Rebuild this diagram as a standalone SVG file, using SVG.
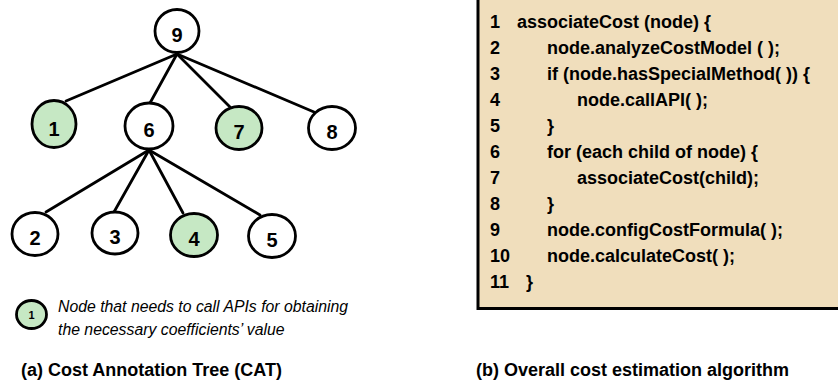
<svg xmlns="http://www.w3.org/2000/svg" width="838" height="384" viewBox="0 0 838 384">
<style>
.nd{fill:#fff;stroke:#000;stroke-width:2.8}
.gr{fill:#c6e8c4}
.num{font-family:"Liberation Sans",Arial,sans-serif;font-weight:bold;font-size:20px;text-anchor:middle;fill:#000}
.ed{stroke:#000;stroke-width:2.8;fill:none;stroke-linecap:round}
.code{font-family:"Liberation Sans",Arial,sans-serif;font-weight:bold;font-size:18px;fill:#000}
.leg{font-family:"Liberation Sans",Arial,sans-serif;font-style:italic;font-size:15.8px;fill:#000}
.cap{font-family:"Liberation Sans",Arial,sans-serif;font-weight:bold;font-size:18px;fill:#000}
</style>
<rect width="838" height="384" fill="#fff"/>
<g id="connectors">
<line class="ed" x1="177" y1="54" x2="66" y2="101"/>
<line class="ed" x1="177" y1="54" x2="150" y2="103"/>
<line class="ed" x1="177" y1="54" x2="230" y2="107"/>
<line class="ed" x1="177" y1="54" x2="314" y2="112"/>
<line class="ed" x1="149" y1="150" x2="46" y2="212"/>
<line class="ed" x1="149" y1="150" x2="114" y2="212"/>
<line class="ed" x1="149" y1="150" x2="183" y2="213"/>
<line class="ed" x1="149" y1="150" x2="260" y2="215"/>
</g>
<g id="n9"><ellipse class="nd" cx="177" cy="31" rx="22" ry="21.5"/><text class="num" x="177" y="42">9</text></g>
<g id="n1"><ellipse class="nd gr" cx="54" cy="124" rx="22" ry="23.5"/><text class="num" x="54" y="136">1</text></g>
<g id="n6"><ellipse class="nd" cx="149" cy="126" rx="24" ry="23"/><text class="num" x="149" y="137">6</text></g>
<g id="n7"><ellipse class="nd gr" cx="239" cy="128" rx="23" ry="21.5"/><text class="num" x="239" y="139">7</text></g>
<g id="n8"><ellipse class="nd" cx="332" cy="128" rx="23.5" ry="21.5"/><text class="num" x="332" y="139">8</text></g>
<g id="n2"><ellipse class="nd" cx="35" cy="234" rx="23" ry="21.5"/><text class="num" x="35" y="245">2</text></g>
<g id="n3"><ellipse class="nd" cx="115" cy="233" rx="23" ry="21"/><text class="num" x="115" y="244">3</text></g>
<g id="n4"><ellipse class="nd gr" cx="194" cy="235" rx="23.5" ry="21.5"/><text class="num" x="194" y="246">4</text></g>
<g id="n5"><ellipse class="nd" cx="272" cy="236" rx="23.5" ry="21.5"/><text class="num" x="272" y="247">5</text></g>
<g id="legend">
<ellipse class="nd gr" cx="31.5" cy="314.5" rx="15" ry="14"/>
<text x="31.5" y="319" font-family="Liberation Sans, Arial, sans-serif" font-weight="bold" font-size="11" text-anchor="middle">1</text>
<text class="leg" x="58" y="312">Node that needs to call APIs for obtaining</text>
<text class="leg" x="58" y="335">the necessary coefficients’ value</text>
</g>
<text class="cap" x="21" y="376">(a) Cost Annotation Tree (CAT)</text>
<g id="code">
<rect x="478" y="-10" width="400" height="318.5" fill="#f0debc" stroke="#000" stroke-width="3"/>
<text class="code" x="490" y="28">1</text><text class="code" x="517" y="28">associateCost (node) {</text>
<text class="code" x="490" y="54">2</text><text class="code" x="547" y="54">node.analyzeCostModel ( );</text>
<text class="code" x="490" y="80">3</text><text class="code" x="547" y="80">if (node.hasSpecialMethod( )) {</text>
<text class="code" x="490" y="106">4</text><text class="code" x="577" y="106">node.callAPI( );</text>
<text class="code" x="490" y="132">5</text><text class="code" x="547" y="132">}</text>
<text class="code" x="490" y="158">6</text><text class="code" x="547" y="158">for (each child of node) {</text>
<text class="code" x="490" y="184">7</text><text class="code" x="577" y="184">associateCost(child);</text>
<text class="code" x="490" y="210">8</text><text class="code" x="547" y="210">}</text>
<text class="code" x="490" y="236">9</text><text class="code" x="547" y="236">node.configCostFormula( );</text>
<text class="code" x="490" y="262">10</text><text class="code" x="547" y="262">node.calculateCost( );</text>
<text class="code" x="490" y="288">11</text><text class="code" x="526" y="288">}</text>
</g>
<text class="cap" x="476" y="376" font-size="17.6">(b) Overall cost estimation algorithm</text>
</svg>
